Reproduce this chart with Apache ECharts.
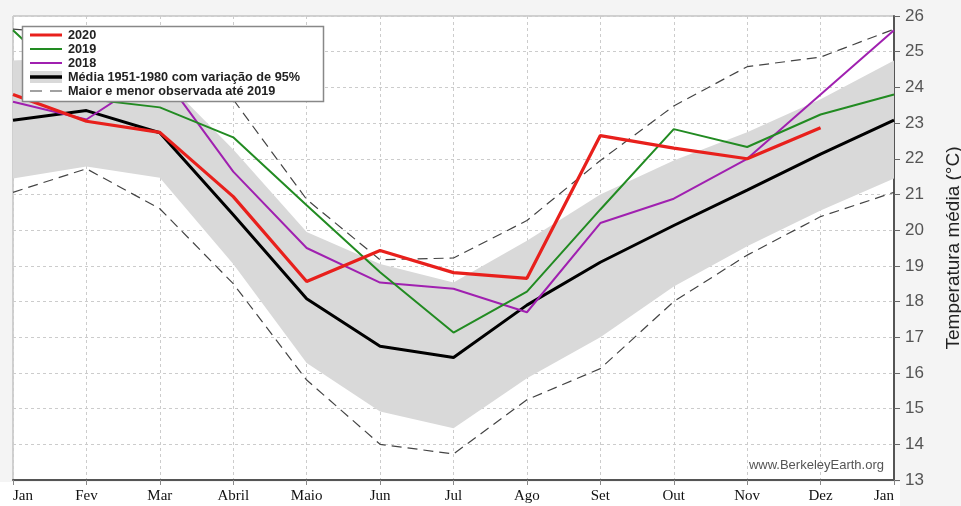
<!DOCTYPE html>
<html>
<head>
<meta charset="utf-8">
<script src="https://cdn.jsdelivr.net/npm/echarts@6/dist/echarts.min.js"></script>
<style>
html,body{margin:0;padding:0;background:#f4f4f4;}
#chart{width:961px;height:506px;}
</style>
</head>
<body>
<div id="chart"></div>
<script>
var months = ['Jan','Fev','Mar','Abril','Maio','Jun','Jul','Ago','Set','Out','Nov','Dez','Jan'];
var y2020 = [23.8, 23.05, 22.74, 20.94, 18.56, 19.43, 18.81, 18.65, 22.65, 22.3, 22.0, 22.87, null];
var y2019 = [25.6, 23.68, 23.44, 22.6, 20.7, 18.82, 17.13, 18.28, 20.58, 22.83, 22.33, 23.24, 23.8];
var y2018 = [23.6, 23.1, 24.45, 21.64, 19.5, 18.53, 18.36, 17.7, 20.2, 20.88, 22.0, 23.8, 25.6];
var mean5180 = [23.08, 23.35, 22.73, 20.43, 18.08, 16.75, 16.43, 17.9, 19.1, 20.13, 21.12, 22.13, 23.08];
var bandLow = [21.45, 21.78, 21.47, 19.05, 16.28, 14.92, 14.45, 15.85, 17.0, 18.42, 19.55, 20.55, 21.45];
var bandHigh = [24.75, 24.85, 24.35, 22.26, 19.95, 19.05, 18.53, 19.7, 21.0, 21.95, 22.74, 23.67, 24.75];
var recordMax = [25.63, 25.5, 25.2, 23.66, 20.86, 19.17, 19.22, 20.27, 21.95, 23.48, 24.58, 24.85, 25.63];
var recordMin = [21.06, 21.72, 20.6, 18.5, 15.8, 14.0, 13.73, 15.25, 16.12, 18.0, 19.3, 20.38, 21.06];
var yTicks = {min: 13, max: 26, interval: 1};
var legendLabels = ['2020', '2019', '2018', 'Média 1951-1980 com variação de 95%', 'Maior e menor observada até 2019'];
var axisName = 'Temperatura média (°C)';
var credit = 'www.BerkeleyEarth.org';

var bandDiff = bandHigh.map(function (h, i) { return +(h - bandLow[i]).toFixed(3); });

var C = {red: '#e8201c', green: '#228b22', purple: '#a020b0', black: '#000', dash: '#444', band: '#d9d9d9'};

var chart = echarts.init(document.getElementById('chart'), null, {renderer: 'canvas'});

function lineSeries(name, data, color, width, type, z) {
  return {
    name: name, type: 'line', data: data, symbol: 'none', silent: true, z: z,
    lineStyle: {color: color, width: width, type: type || 'solid'},
    itemStyle: {color: color}, animation: false, connectNulls: false
  };
}

var legX = 30, legY = 35, legStep = 14;
var legendGraphic = [
  {type: 'rect', shape: {x: 22.5, y: 26.5, width: 301, height: 75}, style: {fill: '#fff', stroke: '#888', lineWidth: 1.5}, z: 100}
];
var legendStyles = [
  {color: C.red, width: 3, dash: null},
  {color: C.green, width: 2, dash: null},
  {color: C.purple, width: 2, dash: null},
  {color: C.black, width: 3.5, dash: null, band: true},
  {color: C.dash, width: 1.2, dash: [12, 8]}
];
legendLabels.forEach(function (t, i) {
  var y = legY + i * legStep;
  var s = legendStyles[i];
  if (s.band) {
    legendGraphic.push({type: 'rect', shape: {x: legX, y: y - 6, width: 32, height: 12}, style: {fill: C.band}, z: 101});
  }
  legendGraphic.push({type: 'line', shape: {x1: legX, y1: y, x2: legX + 32, y2: y},
    style: {stroke: s.color, lineWidth: s.width, lineDash: s.dash}, z: 102});
  legendGraphic.push({type: 'text', x: legX + 38, y: y, style: {text: t, fill: '#222', font: 'bold 12.7px "Liberation Sans", Arial', textVerticalAlign: 'middle', textBaseline: 'middle'}, z: 102});
});

var option = {
  backgroundColor: '#f4f4f4',
  animation: false,
  grid: {left: 13, right: 67, top: 16, bottom: 26, show: true, backgroundColor: '#fff', borderColor: '#aaa', borderWidth: 1, containLabel: false, outerBoundsMode: 'none'},
  xAxis: {
    type: 'category', data: months, boundaryGap: false,
    axisLine: {show: true, lineStyle: {color: '#555', width: 2}},
    axisTick: {show: true, length: 5, lineStyle: {color: '#888'}},
    axisLabel: {interval: 0, fontFamily: '"Liberation Serif", "Times New Roman", serif', fontSize: 15, color: '#111', margin: 9, alignMinLabel: 'left', alignMaxLabel: 'right'},
    splitLine: {show: true, lineStyle: {color: '#ccc', type: [3, 3], width: 1}}
  },
  yAxis: {
    type: 'value', position: 'right', min: yTicks.min, max: yTicks.max, interval: yTicks.interval,
    axisLine: {show: true, lineStyle: {color: '#555', width: 2}},
    axisTick: {show: true, length: 6, lineStyle: {color: '#666'}},
    axisLabel: {fontFamily: '"Liberation Sans", Arial, sans-serif', fontSize: 17, color: '#555', margin: 11},
    splitLine: {show: true, lineStyle: {color: '#ccc', type: [3, 3], width: 1}},
    name: axisName, nameLocation: 'middle', nameRotate: 90, nameGap: 50,
    nameTextStyle: {fontFamily: '"Liberation Sans", Arial, sans-serif', fontSize: 19, color: '#222'}
  },
  series: [
    {name: 'bandLow', type: 'line', stack: 'band', data: bandLow, symbol: 'none', silent: true, lineStyle: {opacity: 0}, z: 1},
    {name: 'band', type: 'line', stack: 'band', data: bandDiff, symbol: 'none', silent: true, lineStyle: {opacity: 0}, areaStyle: {color: C.band, opacity: 1}, z: 1},
    lineSeries(legendLabels[4], recordMax, C.dash, 1.2, [10, 6], 2),
    lineSeries('min', recordMin, C.dash, 1.2, [10, 6], 2),
    lineSeries(legendLabels[3], mean5180, C.black, 3, 'solid', 3),
    lineSeries('2018', y2018, C.purple, 2, 'solid', 4),
    lineSeries('2019', y2019, C.green, 2, 'solid', 5),
    lineSeries('2020', y2020, C.red, 3.2, 'solid', 6)
  ],
  graphic: [
    {type: 'rect', shape: {x: 0, y: 482, width: 900, height: 24}, style: {fill: '#fff'}, z: -10, silent: true},
    {type: 'text', x: 884, y: 465, style: {text: credit, fill: '#555', font: '13px "Liberation Sans", Arial', textAlign: 'right', textVerticalAlign: 'middle', textBaseline: 'middle'}, z: 50}
  ].concat(legendGraphic)
};
chart.setOption(option);
</script>
</body>
</html>
